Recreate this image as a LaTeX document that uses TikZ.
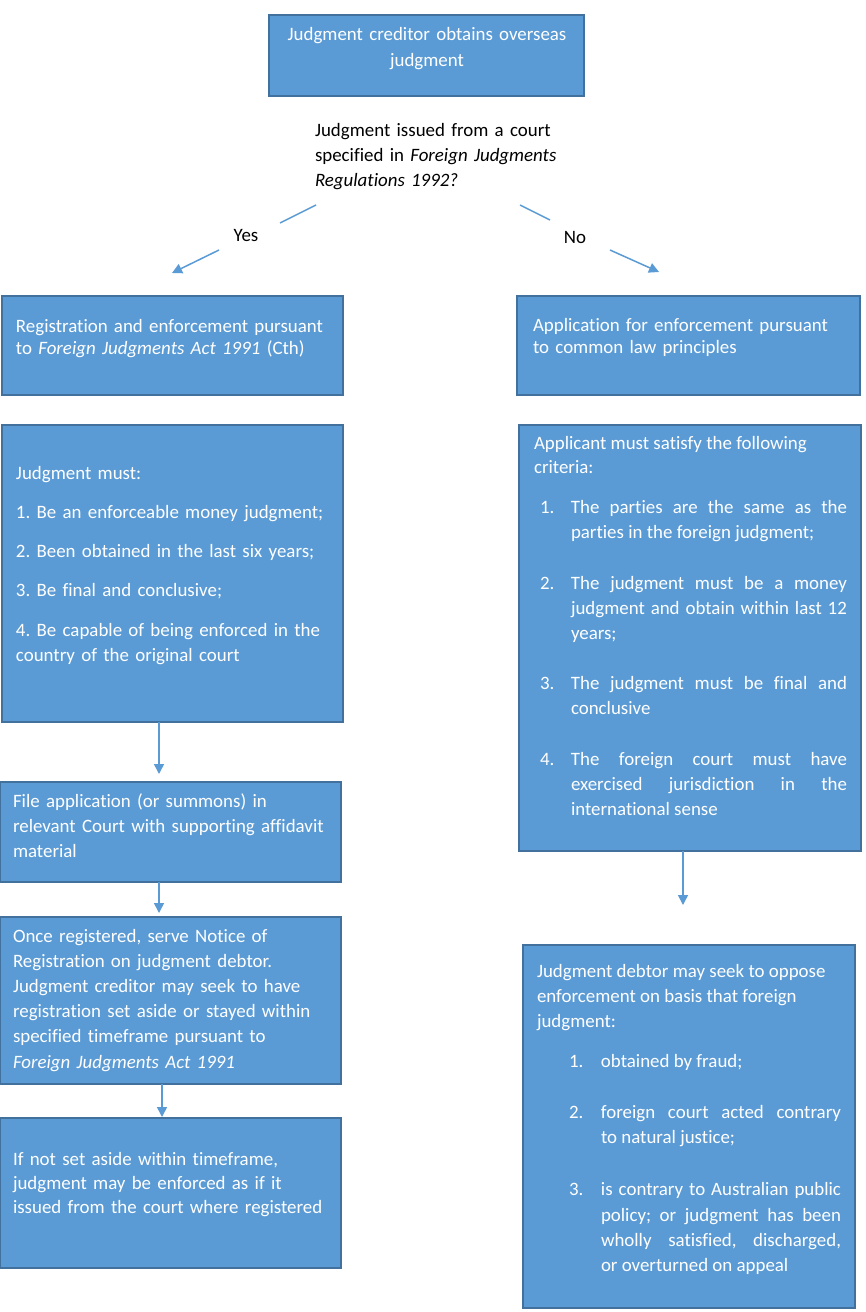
\documentclass[tikz,border=0pt]{standalone}
\usepackage{fontspec}
\setmainfont{Carlito}[Ligatures=NoCommon]
\usetikzlibrary{arrows.meta}
\definecolor{boxfill}{HTML}{5B9BD5}
\definecolor{boxline}{HTML}{41719C}
\definecolor{arrowcol}{HTML}{5B9BD5}
\newcommand\numitem[3]{\par\hangindent=#2\hangafter=1\noindent\makebox[#2][l]{\hspace*{#1}#3}\ignorespaces}
\tikzset{
  box/.style={draw=boxline, fill=boxfill, line width=1.5pt, inner sep=0pt, outer sep=0pt, anchor=north west},
  boxtext/.style={text=white, anchor=base west, inner sep=0pt, outer sep=0pt},
  plaintext/.style={text=black, inner sep=0pt, outer sep=0pt},
  arr/.style={draw=arrowcol, line width=1.5pt, -{Triangle[length=10pt,width=10pt]}},
  seg/.style={draw=arrowcol, line width=1.5pt},
}
\newcommand\fs[1]{\fontsize{18.9}{#1}\selectfont\frenchspacing}
\begin{document}
\begin{tikzpicture}[x=1pt,y=-1pt]
\useasboundingbox (0,0) rectangle (865,1312);
\fill[white] (0,0) rectangle (865,1312);

% boxes
\node[box, minimum width=315, minimum height=81] (top) at (269,15) {};
\node[box, minimum width=341, minimum height=99] (lb1) at (2,296) {};
\node[box, minimum width=343, minimum height=99] (rb1) at (517,296) {};
\node[box, minimum width=341, minimum height=297] (lb2) at (2,425) {};
\node[box, minimum width=342, minimum height=426] (rb2) at (519,425) {};
\node[box, minimum width=341, minimum height=100] (lb3) at (0,782) {};
\node[box, minimum width=341, minimum height=167] (lb4) at (0,917) {};
\node[box, minimum width=341, minimum height=150] (lb5) at (0,1118) {};
\node[box, minimum width=332, minimum height=363] (rb3) at (523,945) {};

% texts
\node[boxtext, anchor=base, align=center, text width=310, font=\fs{26}] (toptext) at (427,40)
  {Judgment creditor obtains overseas\\judgment};
\node[plaintext, anchor=base west, align=left, text width=290, font=\fs{25}] (q) at (315,136)
  {Judgment issued from a court\\specified in \textit{Foreign Judgments}\\\textit{Regulations 1992?}};
\node[plaintext, anchor=base, font=\fs{25}] (yes) at (246,241) {Yes};
\node[plaintext, anchor=base, font=\fs{25}] (no) at (575,243) {No};

\node[boxtext, align=left, text width=325, font=\fs{22}] (lb1t) at (16,332)
  {Registration and enforcement pursuant\\to \textit{Foreign Judgments Act 1991} (Cth)};
\node[boxtext, align=left, text width=320, font=\fs{22}] (rb1t) at (533,331)
  {Application for enforcement pursuant\\to common law principles};

\node[boxtext, align=left, text width=325, font=\fs{25.5}] (lb2t) at (16,479)
  {Judgment must:\\[13.8pt]1. Be an enforceable money judgment;\\[13.8pt]2. Been obtained in the last six years;\\[13.8pt]3. Be final and conclusive;\\[13.8pt]4. Be capable of being enforced in the\\country of the original court};

\node[boxtext, font=\fs{24.8}] (rb2t) at (534,449)
  {\parbox[t]{313pt}{\fs{24.8}\hyphenpenalty=10000 Applicant must satisfy the following\newline criteria:\par\vspace{15.2pt}
   \numitem{6pt}{37pt}{1.}The parties are the same as the\linebreak parties in the foreign judgment;\par\vspace{26pt}
   \numitem{6pt}{37pt}{2.}The judgment must be a money\linebreak judgment and obtain within last 12\linebreak years;\par\vspace{26pt}
   \numitem{6pt}{37pt}{3.}The judgment must be final and\linebreak conclusive\par\vspace{26pt}
   \numitem{6pt}{37pt}{4.}The foreign court must have\linebreak exercised jurisdiction in the\linebreak international sense\par}};

\node[boxtext, align=left, text width=325, font=\fs{25}] (lb3t) at (13,807)
  {File application (or summons) in\\relevant Court with supporting affidavit\\material};
\node[boxtext, align=left, text width=325, font=\fs{25.2}] (lb4t) at (13,942)
  {Once registered, serve Notice of\\Registration on judgment debtor.\\Judgment creditor may seek to have\\registration set aside or stayed within\\specified timeframe pursuant to\\\textit{Foreign Judgments Act 1991}};
\node[boxtext, align=left, text width=325, font=\fs{24}] (lb5t) at (13,1165)
  {If not set aside within timeframe,\\judgment may be enforced as if it\\issued from the court where registered};

\node[boxtext, font=\fs{25.3}] (rb3t) at (537,977)
  {\parbox[t]{304pt}{\fs{25.3}\hyphenpenalty=10000 Judgment debtor may seek to oppose\newline enforcement on basis that foreign\newline judgment:\par\vspace{14.7pt}
   \numitem{32pt}{64pt}{1.}obtained by fraud;\par\vspace{25.7pt}
   \numitem{32pt}{64pt}{2.}foreign court acted contrary\linebreak to natural justice;\par\vspace{26.7pt}
   \numitem{32pt}{64pt}{3.}is contrary to Australian public\linebreak policy; or judgment has been\linebreak wholly satisfied, discharged,\linebreak or overturned on appeal\par}};

% Yes / No connectors
\coordinate (ys) at (316,205);
\coordinate (y1) at (280,223);
\coordinate (y2) at (219,250);
\coordinate (ye) at (172,273);
\coordinate (ns) at (520,205);
\coordinate (n1) at (550,220);
\coordinate (n2) at (610,250);
\coordinate (ne) at (659,272);
\draw[seg] (ys) -- (y1);
\draw[arr] (y2) -- (ye);
\draw[seg] (ns) -- (n1);
\draw[arr] (n2) -- (ne);

% vertical arrows
\coordinate (a1) at (159,774);
\coordinate (a2) at (159,913);
\coordinate (a3) at (162,1117);
\coordinate (a4) at (683,905);
\draw[arr] (a1 |- lb2.south) -- (a1);
\draw[arr] (a2 |- lb3.south) -- (a2);
\draw[arr] (a3 |- lb4.south) -- (a3);
\draw[arr] (a4 |- rb2.south) -- (a4);
\end{tikzpicture}
\end{document}
